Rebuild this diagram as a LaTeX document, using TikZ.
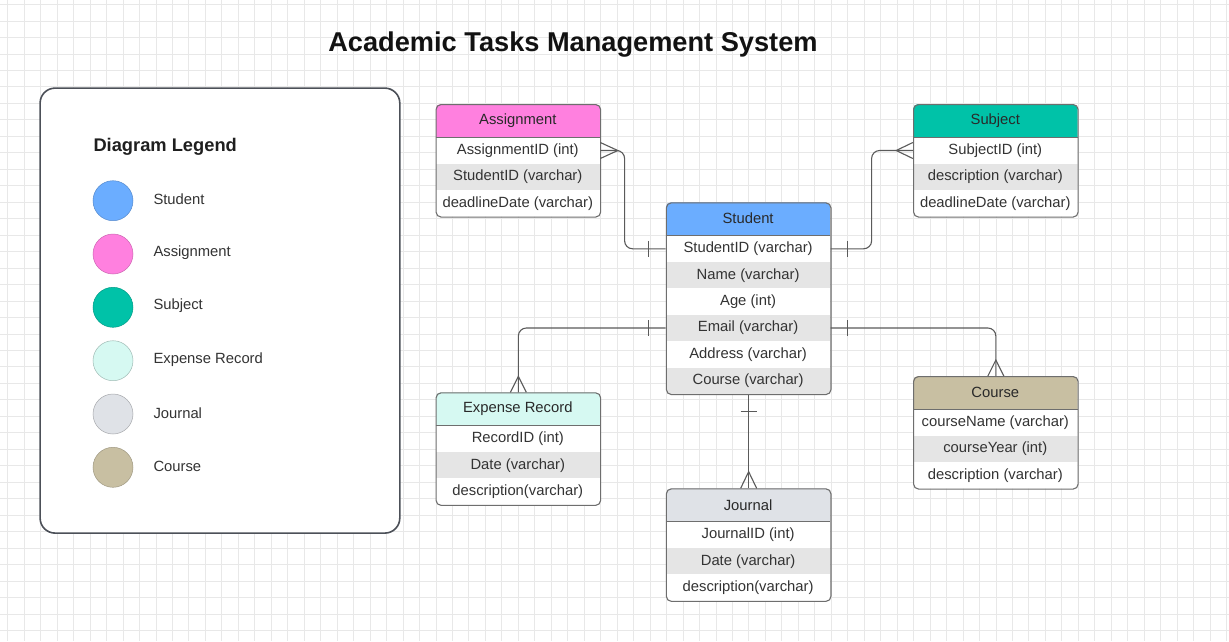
\documentclass[tikz,border=0pt]{standalone}
\usepackage{fontspec}
\setmainfont{Liberation Sans}
\usetikzlibrary{calc}
\definecolor{cStudent}{HTML}{6BADFF}
\definecolor{cAssign}{HTML}{FF80DF}
\definecolor{cSubject}{HTML}{00C2A8}
\definecolor{cExpense}{HTML}{D6F9F2}
\definecolor{cJournal}{HTML}{DFE2E7}
\definecolor{cCourse}{HTML}{C8BFA2}
\definecolor{rowgray}{HTML}{E5E5E5}
\definecolor{bordergray}{HTML}{6E6E6E}
\definecolor{conngray}{HTML}{5A5A5A}
\definecolor{txtgray}{HTML}{333333}
\definecolor{gridgray}{HTML}{E8E8E8}
\definecolor{legendborder}{HTML}{4C5058}
\tikzset{
  x=1pt, y=-1pt,
  gridline/.style={draw=gridgray, line width=0.8pt},
  rowtxt/.style={inner sep=0pt, minimum width=164.6pt, minimum height=26.4pt, text=txtgray, font=\fontsize{14.8}{17}\selectfont},
  hdrtxt/.style={inner sep=0pt, minimum width=164.6pt, minimum height=33.3pt, text=txtgray!80!black, font=\fontsize{14.8}{17}\selectfont},
  tblborder/.style={draw=bordergray, line width=1.1pt, rounded corners=5pt, inner sep=0pt, anchor=north west},
  conn/.style={draw=conngray, line width=1.1pt},
  legdot/.style={circle, minimum size=40pt, inner sep=0pt, line width=0.5pt},
  legtxt/.style={anchor=west, inner sep=0pt, text=txtgray, font=\fontsize{14.8}{17}\selectfont},
}
% name, x, y, nrows, colour, title, rows
\newcommand{\ertable}[7]{%
  \begin{scope}
    \clip[rounded corners=5pt] (#2,#3) rectangle ++(164.6,{33.3+26.4*#4});
    \fill[#5] (#2,#3) rectangle ++(164.6,33.3);
    \fill[white] (#2,#3+33.3) rectangle ++(164.6,{26.4*#4});
    \foreach \t [count=\i] in {#7} {
      \ifodd\i\else
        \fill[rowgray] (#2,{#3+33.3+26.4*(\i-1)}) rectangle ++(164.6,26.4);
      \fi
    }
  \end{scope}
  \draw[bordergray, line width=1.1pt] (#2,#3+33.3) -- ++(164.6,0);
  \node[tblborder, minimum width=164.6pt, minimum height={(33.3+26.4*#4)*1pt}] (#1) at (#2,#3) {};
  \node[hdrtxt] (#1-h) at (#2+82.3,#3+16.4) {#6};
  \foreach \t [count=\i] in {#7} {
    \node[rowtxt] (#1-r\i) at (#2+82.3,{#3+33.3+13.2+26.4*(\i-1)}) {\t};
  }
}
\begin{document}
\begin{tikzpicture}
\useasboundingbox (0,0) rectangle (1229,641);
\fill[white] (0,0) rectangle (1229,641);
% grid
\foreach \k in {0,...,74} { \draw[gridline] ({7.7+16.47*\k},0) -- ({7.7+16.47*\k},641); }
\foreach \k in {0,...,38} { \draw[gridline] (0,{4.5+16.47*\k}) -- (1229,{4.5+16.47*\k}); }

% title
\node[font=\bfseries\fontsize{27.2}{30}\selectfont, text=black!93, inner sep=0pt] (title) at (573,45) {Academic Tasks Management System};

% legend
\node[draw=legendborder, line width=1.6pt, rounded corners=15pt, fill=white, minimum width=359.7pt, minimum height=445pt, anchor=north west, inner sep=0pt] (legend) at (39.3,87.3) {};
\node[anchor=west, inner sep=0pt, font=\bfseries\fontsize{18.3}{21}\selectfont, text=black!88] (legtitle) at (93.3,146.5) {Diagram Legend};
\node[legdot, fill=cStudent, draw=cStudent!80!black] (d1) at (113,200.7) {};
\node[legtxt] (l1) at (153.3,199.5) {Student};
\node[legdot, fill=cAssign, draw=cAssign!80!black] (d2) at (113,254) {};
\node[legtxt] (l2) at (153.3,252.8) {Assignment};
\node[legdot, fill=cSubject, draw=cSubject!80!black] (d3) at (113,307.3) {};
\node[legtxt] (l3) at (153.3,306.1) {Subject};
\node[legdot, fill=cExpense, draw=cExpense!75!black] (d4) at (113,360.7) {};
\node[legtxt] (l4) at (153.3,359.5) {Expense Record};
\node[legdot, fill=cJournal, draw=cJournal!75!black] (d5) at (113,414) {};
\node[legtxt] (l5) at (153.3,412.8) {Journal};
\node[legdot, fill=cCourse, draw=cCourse!80!black] (d6) at (113,467.3) {};
\node[legtxt] (l6) at (153.3,466.1) {Course};

% tables
\ertable{asg}{435.5}{104}{3}{cAssign}{Assignment}{AssignmentID (int),StudentID (varchar),deadlineDate (varchar)}
\ertable{sub}{913}{104}{3}{cSubject}{Subject}{SubjectID (int),description (varchar),deadlineDate (varchar)}
\ertable{stu}{665.8}{202.3}{6}{cStudent}{Student}{StudentID (varchar),Name (varchar),Age (int),Email (varchar),Address (varchar),Course (varchar)}
\ertable{exp}{435.5}{392.3}{3}{cExpense}{Expense Record}{RecordID (int),Date (varchar),description(varchar)}
\ertable{crs}{913}{376}{3}{cCourse}{Course}{courseName (varchar),courseYear (int),description (varchar)}
\ertable{jou}{665.8}{488.3}{3}{cJournal}{Journal}{JournalID (int),Date (varchar),description(varchar)}

% connectors
% Assignment - Student
\draw[conn, rounded corners=8pt] (asg-r1.east) -- ++(24.3,0) |- (stu-r1.west);
\draw[conn] ($(asg-r1.east)+(0,-8)$) -- ($(asg-r1.east)+(17.5,0)$) -- ($(asg-r1.east)+(0,8)$);
\draw[conn] ($(stu-r1.west)+(-16.8,-8)$) -- ++(0,16);
% Subject - Student
\draw[conn, rounded corners=8pt] (stu-r1.east) -- ++(41,0) |- (sub-r1.west);
\draw[conn] ($(sub-r1.west)+(0,-8)$) -- ($(sub-r1.west)+(-16.6,0)$) -- ($(sub-r1.west)+(0,8)$);
\draw[conn] ($(stu-r1.east)+(16.6,-8)$) -- ++(0,16);
% Expense - Student
\draw[conn, rounded corners=8pt] (stu-r4.west) -| (exp.north);
\draw[conn] ($(exp.north)+(-8,0)$) -- ($(exp.north)+(0,-16)$) -- ($(exp.north)+(8,0)$);
\draw[conn] ($(stu-r4.west)+(-16.8,-8)$) -- ++(0,16);
% Course - Student
\draw[conn, rounded corners=8pt] (stu-r4.east) -| (crs.north);
\draw[conn] ($(crs.north)+(-8,0)$) -- ($(crs.north)+(0,-16)$) -- ($(crs.north)+(8,0)$);
\draw[conn] ($(stu-r4.east)+(16.6,-8)$) -- ++(0,16);
% Journal - Student
\draw[conn] (stu.south) -- (jou.north);
\draw[conn] ($(jou.north)+(-8,0)$) -- ($(jou.north)+(0,-16.6)$) -- ($(jou.north)+(8,0)$);
\draw[conn] ($(stu.south)+(-8,16.6)$) -- ++(16,0);
\end{tikzpicture}
\end{document}
